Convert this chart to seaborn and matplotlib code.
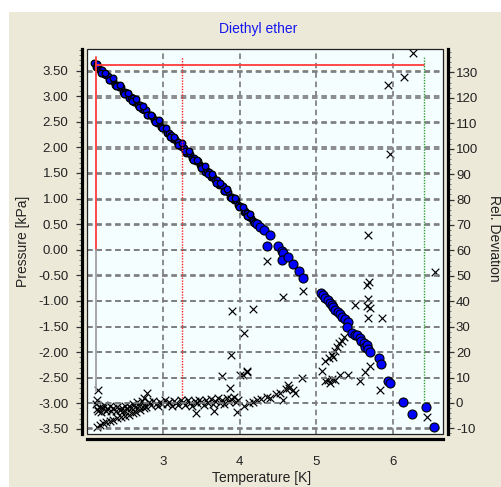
import matplotlib
matplotlib.use('Agg')
import matplotlib.pyplot as plt
import seaborn as sns
import pandas as pd
from matplotlib.patches import Rectangle
from matplotlib.ticker import MultipleLocator, FormatStrFormatter

sns.set_style('white')
plt.rcParams['font.family'] = ['Liberation Sans', 'DejaVu Sans']

title = "Diethyl ether"
x_label = "Temperature [K]"
y_label = "Pressure [kPa]"
y2_label = "Rel. Deviation"

# ---- pressure series (blue markers, left axis) ----
# dense band (read along the thick stroke, two rows)
band_temp = [2.100, 2.125, 2.150, 2.175, 2.200, 2.225, 2.250, 2.275, 2.300, 2.325,
             2.350, 2.375, 2.400, 2.425, 2.450, 2.475, 2.500, 2.525, 2.550, 2.575,
             2.600, 2.625, 2.650, 2.675, 2.700, 2.725, 2.750, 2.775, 2.800, 2.825,
             2.850, 2.875, 2.900, 2.925, 2.950, 2.975, 3.000, 3.025, 3.050, 3.075,
             3.100, 3.125, 3.150, 3.175, 3.200, 3.225, 3.250, 3.275, 3.300, 3.325,
             3.350, 3.375, 3.400, 3.425, 3.450, 3.475, 3.500, 3.525, 3.550, 3.575,
             3.600, 3.625, 3.650, 3.675, 3.700, 3.725, 3.750, 3.775, 3.800, 3.825,
             3.850, 3.875, 3.900, 3.925, 3.950, 3.975, 4.000, 4.025, 4.050, 4.075,
             4.100, 4.125, 4.150, 4.175, 4.200,
             2.14, 2.19, 2.24, 2.29, 2.34, 2.39, 2.44, 2.49, 2.54, 2.59,
             2.64, 2.69, 2.74, 2.79, 2.84, 2.89, 2.94, 2.99, 3.04, 3.09,
             3.14, 3.19, 3.24, 3.29, 3.34, 3.39, 3.44, 3.49, 3.54, 3.59,
             3.64, 3.69, 3.74, 3.79, 3.84, 3.89, 3.94, 3.99, 4.04, 4.09,
             4.14, 4.19]
band_value = [3.64, 3.56, 3.56, 3.51, 3.51, 3.43, 3.42, 3.40, 3.31, 3.33,
              3.30, 3.22, 3.22, 3.17, 3.18, 3.09, 3.08, 3.06, 2.97, 2.99,
              2.96, 2.88, 2.88, 2.83, 2.83, 2.75, 2.73, 2.72, 2.63, 2.64,
              2.62, 2.53, 2.54, 2.48, 2.49, 2.40, 2.38, 2.37, 2.27, 2.28,
              2.25, 2.16, 2.16, 2.11, 2.11, 2.02, 2.00, 1.98, 1.89, 1.90,
              1.87, 1.79, 1.79, 1.74, 1.74, 1.65, 1.64, 1.62, 1.52, 1.54,
              1.51, 1.42, 1.42, 1.36, 1.36, 1.27, 1.26, 1.24, 1.14, 1.15,
              1.12, 1.03, 1.03, 0.97, 0.97, 0.88, 0.86, 0.84, 0.74, 0.75,
              0.72, 0.63, 0.62, 0.56, 0.55,
              3.62, 3.45, 3.46, 3.31, 3.36, 3.20, 3.21, 3.04, 3.06, 2.90,
              2.95, 2.79, 2.80, 2.63, 2.64, 2.49, 2.54, 2.37, 2.38, 2.20,
              2.20, 2.04, 2.08, 1.92, 1.92, 1.75, 1.76, 1.59, 1.64, 1.48,
              1.48, 1.30, 1.30, 1.14, 1.18, 1.01, 1.01, 0.83, 0.83, 0.66,
              0.70, 0.52]
# sparse points
sparse_temp = [4.23, 4.26, 4.32, 4.39, 4.36, 4.50, 4.55, 4.56, 4.55, 4.63, 4.70, 4.78, 4.82,
               5.06, 5.09, 5.12, 5.15, 5.18, 5.20, 5.22, 5.25, 5.28, 5.31, 5.34, 5.38,
               5.41, 5.40, 5.46, 5.50, 5.53, 5.57, 5.59, 5.62, 5.63, 5.66, 5.68, 5.70,
               5.82, 5.85, 5.94, 5.96, 6.13, 6.25, 6.43, 6.54]
sparse_value = [0.50, 0.44, 0.38, 0.28, 0.08, 0.08, -0.02, -0.07, -0.21, -0.15, -0.27, -0.41, -0.56,
                -0.84, -0.88, -0.94, -0.99, -1.04, -1.08, -1.12, -1.17, -1.21, -1.26, -1.31, -1.36,
                -1.42, -1.50, -1.63, -1.67, -1.66, -1.72, -1.78, -1.82, -1.90, -1.86, -1.93, -2.00,
                -2.12, -2.24, -2.57, -2.61, -2.98, -3.20, -3.08, -3.47]

# ---- relative deviation series (crosses, right axis) ----
d_temp = [2.12, 2.13, 2.14, 2.15, 2.17, 2.19, 2.21, 2.23, 2.25, 2.27, 2.30, 2.32,
          2.35, 2.38, 2.40, 2.43, 2.46, 2.48, 2.50, 2.53, 2.56, 2.58,
          2.60, 2.63, 2.66, 2.69, 2.72, 2.75, 2.78, 2.81, 2.84, 2.87, 2.90, 2.93,
          2.96, 2.99, 3.02, 3.05, 3.08, 3.11, 3.14, 3.17, 3.20, 3.23, 3.26, 3.29,
          3.32, 3.35, 3.38, 3.41, 3.44, 3.47, 3.50, 3.53, 3.56, 3.59, 3.62, 3.65,
          3.68, 3.71, 3.74, 3.77, 3.80, 3.83, 3.86, 3.89, 3.92, 3.95, 3.98,
          2.13, 2.17, 2.21, 2.25, 2.30, 2.35, 2.40, 2.45, 2.50, 2.55, 2.60, 2.65, 2.70, 2.75,
          2.15, 2.79, 2.75, 3.43, 3.67, 3.77, 3.87, 3.89, 3.90, 4.00, 3.97, 4.09,
          4.04, 4.10, 4.06, 4.17, 4.36, 4.56, 4.82,
          4.05, 4.12, 4.17, 4.22, 4.28, 4.35, 4.39, 4.47, 4.52, 4.56, 4.60, 4.63,
          4.65, 4.69, 4.72, 4.81,
          5.08, 5.11, 5.15, 5.18, 5.21, 5.24, 5.31, 5.41, 5.57, 5.63, 5.70, 5.83,
          5.11, 5.16, 5.20, 5.22, 5.24, 5.27, 5.30, 5.33, 5.36,
          5.50, 5.66, 5.69, 5.67, 5.66, 5.70, 5.68, 5.86, 5.67,
          5.94, 5.96, 6.15, 6.26, 6.44, 6.55]
d_value = [-0.5, -2.5, 1.0, -3.0, -1.5, -3.5, -2.0, -0.8, -3.2, -2.2, -1.2, -3.0,
           -2.0, -3.3, -1.5, -2.6, -1.8, -3.0, -1.2, -2.3, -1.0, -2.0,
           -0.5, -1.5, 0.2, -1.0, 0.8, -0.6, -1.5, 0.3, -0.8, 0.6, -0.4, -1.2,
           0.5, -0.3, 1.0, -0.5, 0.4, -1.0, 0.8, 0.0, -0.8, 1.2, 0.2, -0.6,
           1.0, 0.0, -1.0, 0.8, -0.2, 1.2, 0.3, -0.8, 1.0, 0.0, 1.5, -0.5,
           0.7, 1.8, 0.0, 1.2, -0.5, 2.0, 0.5, 1.5, 2.5, 0.5, 1.0,
           -9.3, -8.6, -8.0, -7.5, -7.0, -6.5, -6.0, -5.6, -5.0, -4.6, -4.0, -3.5, -2.8, -2.0,
           5.0, 4.0, 2.0, -4.0, -3.0, 10.5, 6.0, 19.0, 36.0, 11.0, -3.5, 12.5,
           11.0, 12.0, 27.5, 37.0, 56.0, 41.5, 44.0,
           -1.0, 0.0, 0.5, 1.0, 1.5, 2.5, 2.0, 3.5, 4.0, 1.0, 5.5, 7.0,
           6.0, 5.0, 4.0, 10.0,
           12.5, 8.5, 9.0, 8.0, 9.5, 9.0, 11.0, 11.0, 8.5, 12.0, 14.5, 5.0,
           16.5, 17.5, 19.0, 18.0, 20.5, 22.0, 23.5, 24.5, 26.0,
           38.5, 46.5, 47.5, 41.0, 38.0, 37.5, 33.5, 33.5, 66.0,
           125.0, 98.0, 128.0, 137.5, -5.5, 51.5]

# ---- reference lines (data coordinates) ----
ref_tmin = 2.12
ref_tmax = 6.41
ref_tmid = 3.25
ref_pmax = 3.60
ref_top = 3.77

band_df = pd.DataFrame({'T': band_temp, 'P': band_value})
sparse_df = pd.DataFrame({'T': sparse_temp, 'P': sparse_value})
ddf = pd.DataFrame({'T': d_temp, 'D': d_value})

W, H = 502, 487
fig = plt.figure(figsize=(W / 100, H / 100), dpi=100, facecolor='white')
fig.add_artist(Rectangle((9 / W, 0), 1, 1 - 12 / H, transform=fig.transFigure,
                         facecolor='#ECE9D8', edgecolor='none', zorder=-10))

L, R, T_, B = 87, 443, 49, 434
ax = fig.add_axes([L / W, 1 - B / H, (R - L) / W, (B - T_) / H])
ax2 = ax.twinx()
ax.set_zorder(2)
ax2.set_zorder(1)
ax.patch.set_visible(False)
ax2.patch.set_visible(True)
ax2.patch.set_facecolor('#F4FEFF')

grid_kw = dict(color='#7E7E7E', linestyle=(0, (3.2, 2.2)), linewidth=1.25)

sns.scatterplot(data=ddf, x='T', y='D', ax=ax2, marker='x', color='black',
                s=30, linewidth=0.85, legend=False)
sns.scatterplot(data=band_df, x='T', y='P', ax=ax, marker='o', color='#0000FF',
                edgecolor='black', s=22, linewidth=1.0, legend=False)
sns.scatterplot(data=sparse_df, x='T', y='P', ax=ax, marker='o', color='#0000FF',
                edgecolor='black', s=42, linewidth=0.8, legend=False)

# reference lines
ax.plot([ref_tmin, ref_tmin], [0.0, ref_top], color='#FF3B3B', lw=1.3, zorder=5)
ax.plot([ref_tmin, ref_tmin], [-2.75, 0.0], color='#A0A0A0', lw=1.3, zorder=5)
ax.plot([ref_tmin, ref_tmax], [ref_pmax, ref_pmax], color='#FF3B3B', lw=1.3, zorder=5)
ax.plot([ref_tmid, ref_tmid], [-2.9, ref_top], color='#FF2020', lw=1.0,
        linestyle=(0, (1, 1)), zorder=5)
ax.plot([ref_tmax, ref_tmax], [-3.0, ref_top], color='#30A030', lw=1.0,
        linestyle=(0, (1, 1)), zorder=5)

ax.set_xlim(2.005, 6.655)
ax.set_ylim(-3.598, 3.92)
ax2.set_ylim(-12.2, 139.2)

ax.xaxis.set_major_locator(MultipleLocator(1))
ax.xaxis.set_minor_locator(MultipleLocator(0.25))
ax.yaxis.set_major_locator(MultipleLocator(0.5))
ax.yaxis.set_minor_locator(MultipleLocator(0.1))
ax.yaxis.set_major_formatter(FormatStrFormatter('%.2f'))
ax2.yaxis.set_major_locator(MultipleLocator(10))
ax2.yaxis.set_minor_locator(MultipleLocator(2))
ax2.yaxis.set_major_formatter(FormatStrFormatter('%d'))

ax.grid(True, which='major', axis='both', **grid_kw)
ax2.grid(True, which='major', axis='y', **grid_kw)
ax.set_axisbelow(True)
ax2.set_axisbelow(True)

for s in ['top', 'right']:
    ax.spines[s].set_visible(False)
for s in ['top', 'left', 'bottom']:
    ax2.spines[s].set_visible(False)
for sp, a in [('left', ax), ('bottom', ax), ('right', ax2)]:
    a.spines[sp].set_position(('outward', 3.8))
    a.spines[sp].set_linewidth(2.3)
    a.spines[sp].set_color('black')

ax.add_patch(Rectangle((0, 0), 1, 1, transform=ax.transAxes, fill=False,
                       edgecolor='#202020', linewidth=0.9, clip_on=False, zorder=6))

tick_col = '#333333'
ax.tick_params(axis='y', which='major', direction='out', length=4, width=0.9,
               pad=5.5, labelsize=9.5, colors=tick_col, labelcolor='#222222')
ax.tick_params(axis='y', which='minor', direction='out', length=2, width=0.6,
               colors='#666666')
ax.tick_params(axis='x', which='major', direction='out', length=3, width=0.9,
               pad=9, labelsize=9.5, colors=tick_col, labelcolor='#222222')
ax.tick_params(axis='x', which='minor', direction='out', length=3, width=0.6,
               colors='#666666')
ax2.tick_params(axis='y', which='major', direction='out', length=4, width=0.9,
                pad=1.5, labelsize=9.5, colors=tick_col, labelcolor='#222222')
ax2.tick_params(axis='y', which='minor', direction='out', length=2, width=0.6,
                colors='#666666')

ax.set_xlabel('')
ax.set_ylabel('')
ax2.set_ylabel('')

fig.text(258 / W, 1 - 29 / H, title, color='#1515F0', fontsize=10,
         ha='center', va='center')
fig.text(262 / W, 1 - 478 / H, x_label, color='#222222', fontsize=10,
         ha='center', va='center')
fig.text(23 / W, 1 - 241 / H, y_label, color='#222222', fontsize=10,
         ha='center', va='center', rotation=90)
fig.text(494 / W, 1 - 238 / H, y2_label, color='#222222', fontsize=10,
         ha='center', va='center', rotation=270)

fig.savefig('out.png', dpi=100, facecolor='white')
